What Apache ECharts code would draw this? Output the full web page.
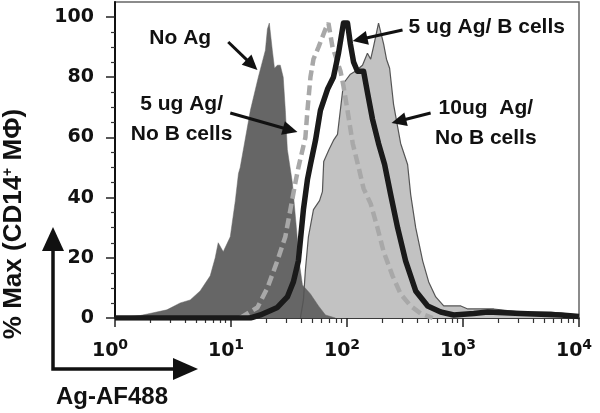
<!DOCTYPE html>
<html><head><meta charset="utf-8">
<script src="https://cdn.jsdelivr.net/npm/echarts@6/dist/echarts.min.js"></script>
<style>html,body{margin:0;padding:0;background:#fff}#c{width:600px;height:413px}</style>
</head><body><div id="c"></div>
<script>
// ---- axis ticks ----
const xMajorTicks = [1, 10, 100, 1000, 10000];
const xMinorTicks = [2,3,4,5,6,7,8,9,20,30,40,50,60,70,80,90,200,300,400,500,600,700,800,900,2000,3000,4000,5000,6000,7000,8000,9000];
const yMajorTicks = [0, 20, 40, 60, 80, 100];
const yMinorTicks = [5,10,15,25,30,35,45,50,55,65,70,75,85,90,95];

// ---- histograms: [Ag-AF488 intensity, % Max] ----
const noAg = [[1,0],[1.22,0.3],[1.64,0.8],[2.0,1.5],[2.8,2.7],[3.65,5],[4.45,6],[5.42,9],[6.62,14],[7.31,20],[7.76,25],[8.57,22],[9.86,27],[10.9,39],[11.6,48],[12.0,50],[14.7,69],[17.2,80],[19.8,89],[20.6,96],[21.4,98],[22.7,89],[23.7,83],[25.1,84],[26.6,84],[28.2,80],[29.4,69],[30.6,56],[33.8,45],[36.6,30],[38.9,18],[41.3,11],[48.4,8],[56.8,4],[65.2,1],[79.6,0]];
const ag10NoB = [[39.7,0],[42.1,6],[43.8,16],[46.5,27],[51.4,36],[58,39],[61.4,42],[63,52],[70,56],[76.4,59],[82.8,61],[91.4,75],[93.3,78],[107,81],[118,82],[136,84],[150,88],[160,86],[169,90],[187,98],[207,91],[219,86],[233,83],[252,71],[290,58],[333,51],[354,41],[391,30],[449,19],[506,12],[582,7],[682,4],[957,4],[1099,3],[1422,3],[1845,3],[3155,2],[5730,2],[10000,1]];
const ag5B = [[1,0],[14.7,0],[17.9,1],[25.1,3.5],[30.6,7],[34.5,12],[38.1,19],[39.7,26],[42.1,36],[45.6,46],[48.4,51],[53.5,59],[59.0,69],[67.9,76],[76.4,80],[84.5,88],[91.4,96],[93.3,98],[101,98],[107,91],[114,85],[123,82],[139,82],[150,75],[166,66],[187,58],[211,51],[238,41],[273,30],[320,19],[391,9],[496,4],[642,2],[832,1],[1238,1.5],[1637,2],[3155,1.5],[7000,1],[10000,0.5]];
const ag5NoB = [[12.0,0],[16.9,3.5],[20.6,10],[25.1,19],[29.4,27],[32.5,36],[35.9,45],[38.1,50],[43.8,60],[45.6,69],[48.4,80],[51.4,86],[56.8,90],[65.2,96],[69.2,98],[75.0,90],[87.9,82],[93.3,77],[101,69],[112,58],[126,50],[139,43],[160,38],[183,30],[207,22],[247,14],[290,8],[354,4],[432,1.5],[548,0]];

// ---- annotations (data coordinates) ----
const labelTexts = ['No Ag', '5 ug Ag/\nNo B cells', '5 ug Ag/ B cells', '10ug  Ag/\nNo B cells'];
const labelPos = [[3.65, 93.0], [3.75, 66.1], [1603, 96.7], [1573, 64.8]];
const arrowFrom = [[9.47, 91.7], [9.86, 68.1], [301, 95.7], [526, 68.1]];
const arrowTo = [[16.9, 82.4], [37.4, 61.8], [112, 92.0], [242, 64.8]];

const chart = echarts.init(document.getElementById('c'));
const tickFont = 'DejaVu Sans';
const txtFont = 'Liberation Sans';

chart.setOption({
  animation: false,
  backgroundColor: '#fff',
  grid: {left: 115, right: 21, top: 2, bottom: 95, show: true, borderColor: '#666', borderWidth: 1.5, backgroundColor: 'transparent'},
  xAxis: [{
    type: 'log', logBase: 10, min: 1, max: 10000,
    axisLine: {show: true, onZero: false, lineStyle: {color: '#222', width: 1.5}},
    axisTick: {show: true, length: 9, customValues: xMajorTicks, lineStyle: {color: '#222', width: 1.5}},
    axisLabel: {customValues: xMajorTicks, margin: 20, color: '#111',
      formatter: function (v) { return '{b|10}{s|' + Math.round(Math.log10(v)) + '}'; },
      rich: {b: {fontFamily: tickFont, fontWeight: 'bold', fontSize: 19, color: '#111'},
             s: {fontFamily: tickFont, fontWeight: 'bold', fontSize: 14, color: '#111', padding: [0, 10, 12, 0]}}},
    splitLine: {show: false}
  }, {
    type: 'log', logBase: 10, min: 1, max: 10000, position: 'bottom',
    axisLine: {show: false},
    axisTick: {show: true, length: 5, customValues: xMinorTicks, lineStyle: {color: '#333', width: 1.2}},
    axisLabel: {show: false}, splitLine: {show: false}
  }],
  yAxis: [{
    type: 'value', min: 0, max: 105,
    axisLine: {show: true, lineStyle: {color: '#111', width: 2}},
    axisTick: {show: true, length: 9, customValues: yMajorTicks, lineStyle: {color: '#222', width: 1.5}},
    axisLabel: {customValues: yMajorTicks, margin: 21, fontFamily: tickFont, fontWeight: 'bold', fontSize: 19, color: '#111'},
    splitLine: {show: false}
  }, {
    type: 'value', min: 0, max: 105, position: 'left',
    axisLine: {show: false},
    axisTick: {show: true, length: 4, customValues: yMinorTicks, lineStyle: {color: '#333', width: 1.2}},
    axisLabel: {show: false}, splitLine: {show: false}
  }],
  series: [
    {name: '10ug Ag/ No B cells', type: 'line', data: ag10NoB, symbol: 'none', xAxisIndex: 0, yAxisIndex: 0,
     lineStyle: {color: '#555', width: 1.2}, areaStyle: {color: '#c2c2c2', opacity: 1}},
    {name: 'No Ag', type: 'line', data: noAg, symbol: 'none',
     lineStyle: {color: '#666', width: 0.5}, areaStyle: {color: '#666', opacity: 1}},
    {name: '5 ug Ag/ No B cells', type: 'line', data: ag5NoB, symbol: 'none',
     lineStyle: {color: '#a8a8a8', width: 4.5, type: [10, 5]}},
    {name: '5 ug Ag/ B cells', type: 'line', data: ag5B, symbol: 'none',
     lineStyle: {color: '#1a1a1a', width: 5.5, join: 'round'}}
  ]
});

// ---- decorations ----
function arrowShapes(p0, p1, lw, headLen, headW) {
  const dx = p1[0] - p0[0], dy = p1[1] - p0[1];
  const L = Math.sqrt(dx * dx + dy * dy), ux = dx / L, uy = dy / L;
  const bx = p1[0] - ux * headLen, by = p1[1] - uy * headLen;
  const px = -uy * headW / 2, py = ux * headW / 2;
  return [
    {type: 'line', shape: {x1: p0[0], y1: p0[1], x2: bx + ux, y2: by + uy}, style: {stroke: '#111', lineWidth: lw}, z: 100},
    {type: 'polygon', shape: {points: [[p1[0], p1[1]], [bx + px, by + py], [bx - px, by - py]]}, style: {fill: '#111'}, z: 100}
  ];
}
const g = [];
for (let i = 0; i < labelTexts.length; i++) {
  const p = chart.convertToPixel({xAxisIndex: 0, yAxisIndex: 0}, labelPos[i]);
  g.push({type: 'text', x: p[0], y: p[1], z: 100,
    style: {text: labelTexts[i], fill: '#111', fontFamily: txtFont, fontWeight: 'bold', fontSize: 21, lineHeight: 30, align: 'center', verticalAlign: 'middle'}});
  const a = chart.convertToPixel({xAxisIndex: 0, yAxisIndex: 0}, arrowFrom[i]);
  const b = chart.convertToPixel({xAxisIndex: 0, yAxisIndex: 0}, arrowTo[i]);
  arrowShapes(a, b, 3, 15, 14).forEach(s => g.push(s));
}
// L-shaped axis arrows (outside plot)
g.push({type: 'polyline', shape: {points: [[53, 250], [53, 369], [175, 369]]}, style: {stroke: '#111', lineWidth: 3.5, fill: null}, z: 100});
g.push({type: 'polygon', shape: {points: [[53, 227], [42, 251], [64, 251]]}, style: {fill: '#111'}, z: 100});
g.push({type: 'polygon', shape: {points: [[198, 369], [173, 358], [173, 380]]}, style: {fill: '#111'}, z: 100});
g.push({type: 'text', x: 56, y: 397, z: 100,
  style: {text: 'Ag-AF488', fill: '#111', fontFamily: txtFont, fontWeight: 'bold', fontSize: 24, align: 'left', verticalAlign: 'middle'}});
g.push({type: 'text', x: 14, y: 224, rotation: Math.PI / 2, z: 100,
  style: {text: '% Max (CD14{sup|+} M\u03A6)', fill: '#111', fontFamily: txtFont, fontWeight: 'bold', fontSize: 26, align: 'center', verticalAlign: 'middle',
    rich: {sup: {fontFamily: txtFont, fontWeight: 'bold', fontSize: 14, fill: '#111', padding: [0, 0, 12, 0]}}}});
chart.setOption({graphic: g});
</script></body></html>
